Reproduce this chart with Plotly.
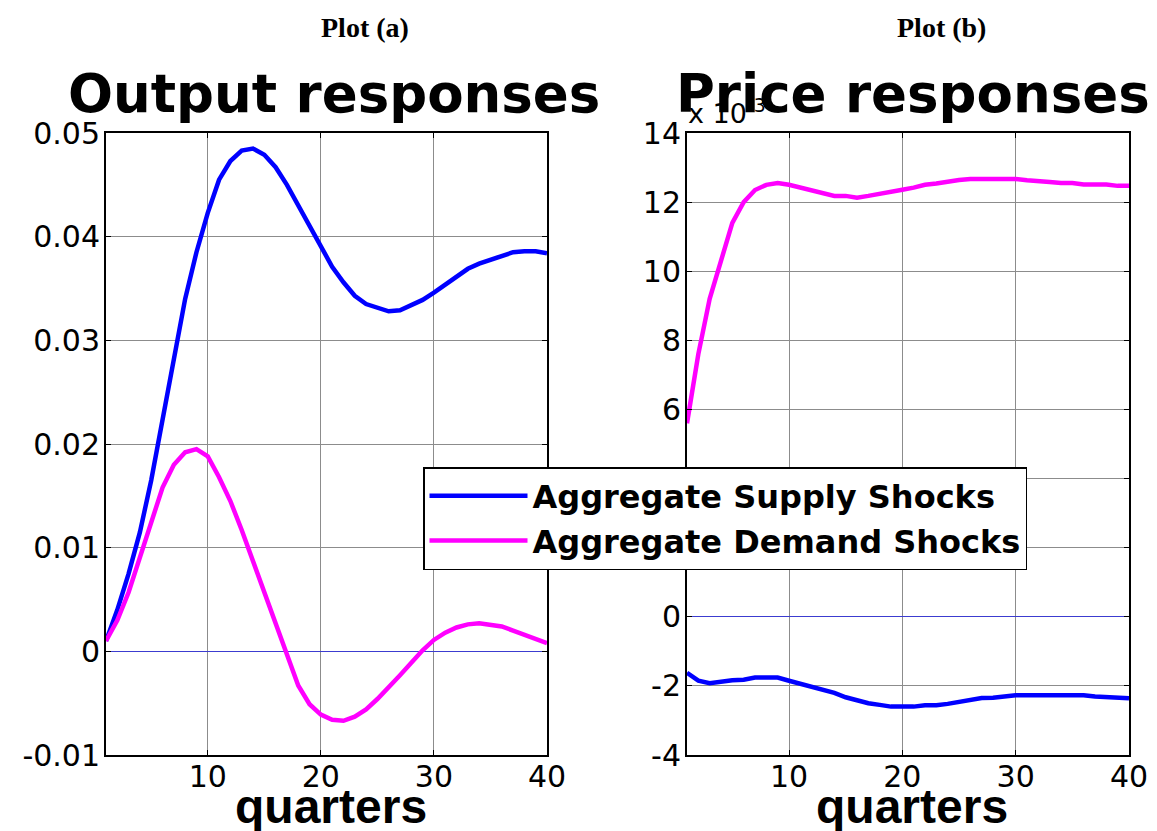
import plotly.graph_objects as go

quarters = list(range(1, 41))

output_supply = [0.0010, 0.0040, 0.0075, 0.0115, 0.0165, 0.0225, 0.0285, 0.0340, 0.0385, 0.0423,
                 0.0455, 0.0473, 0.0483, 0.0485, 0.0479, 0.0467, 0.0450, 0.0430, 0.0410, 0.0389,
                 0.0371, 0.0356, 0.0343, 0.0335, 0.0331, 0.0328, 0.0329, 0.0334, 0.0339, 0.0346,
                 0.0354, 0.0362, 0.0369, 0.0374, 0.0378, 0.0382, 0.0385, 0.0386, 0.0386, 0.0384]

output_demand = [0.0010, 0.0030, 0.0057, 0.0090, 0.0125, 0.0158, 0.0180, 0.0192, 0.0195, 0.0188,
                 0.0168, 0.0145, 0.0117, 0.0087, 0.0057, 0.0028, -0.0003, -0.0033, -0.0051, -0.0061,
                 -0.0066, -0.0067, -0.0063, -0.0056, -0.0046, -0.0035, -0.0023, -0.0011, 0.0001, 0.0011,
                 0.0018, 0.0023, 0.0026, 0.0027, 0.0026, 0.0024, 0.0020, 0.0016, 0.0012, 0.0008]

# price responses, in units of 10^-3
price_supply = [-1.62, -1.85, -1.92, -1.87, -1.84, -1.82, -1.76, -1.76, -1.76, -1.85,
                -1.93, -2.03, -2.12, -2.20, -2.33, -2.42, -2.50, -2.55, -2.60, -2.60,
                -2.60, -2.56, -2.56, -2.52, -2.47, -2.40, -2.35, -2.34, -2.30, -2.27,
                -2.27, -2.27, -2.27, -2.27, -2.27, -2.27, -2.31, -2.32, -2.36, -2.36]

price_demand = [5.60, 7.60, 9.20, 10.30, 11.40, 12.00, 12.35, 12.50, 12.55, 12.50,
                12.42, 12.33, 12.25, 12.18, 12.18, 12.13, 12.18, 12.23, 12.28, 12.36,
                12.42, 12.50, 12.54, 12.60, 12.64, 12.67, 12.67, 12.67, 12.67, 12.67,
                12.63, 12.62, 12.58, 12.55, 12.55, 12.51, 12.51, 12.51, 12.47, 12.47]

x_ticks = [10, 20, 30, 40]
output_ticks = [-0.01, 0, 0.01, 0.02, 0.03, 0.04, 0.05]
output_ticktext = ["-0.01", "0", "0.01", "0.02", "0.03", "0.04", "0.05"]
price_ticks = [-4, -2, 0, 2, 4, 6, 8, 10, 12, 14]
price_ticktext = ["-4", "-2", "0", "2", "4", "6", "8", "10", "12", "14"]

series_names = ["Aggregate Supply Shocks", "Aggregate Demand Shocks"]
BLUE = "#0000ff"
MAGENTA = "#ff00ff"

W, H = 1157, 831
def px(x):
    return x / W
def py(y):
    return (H - y) / H

fig = go.Figure()
fig.add_trace(go.Scatter(x=quarters, y=output_supply, mode="lines", name=series_names[0],
                         line=dict(color=BLUE, width=4.5), xaxis="x", yaxis="y"))
fig.add_trace(go.Scatter(x=quarters, y=output_demand, mode="lines", name=series_names[1],
                         line=dict(color=MAGENTA, width=4.5), xaxis="x", yaxis="y"))
fig.add_trace(go.Scatter(x=quarters, y=price_demand, mode="lines", name=series_names[1],
                         line=dict(color=MAGENTA, width=4.5), xaxis="x2", yaxis="y2", showlegend=False))
fig.add_trace(go.Scatter(x=quarters, y=price_supply, mode="lines", name=series_names[0],
                         line=dict(color=BLUE, width=4.5), xaxis="x2", yaxis="y2", showlegend=False))

tickfont = dict(family="DejaVu Sans", size=30, color="black")
common_x = dict(range=[1, 40], tickvals=x_ticks, ticks="inside", ticklen=5, tickcolor="black",
                showline=True, linecolor="black", linewidth=2, mirror="ticks",
                showgrid=True, gridcolor="#8c8c8c", gridwidth=1, zeroline=False,
                tickfont=tickfont, ticklabelstandoff=-6, automargin=False)
common_y = dict(ticks="inside", ticklen=5, tickcolor="black",
                showline=True, linecolor="black", linewidth=2, mirror="ticks",
                showgrid=True, gridcolor="#8c8c8c", gridwidth=1,
                zeroline=True, zerolinecolor="#3c3cd0", zerolinewidth=1.3,
                tickfont=tickfont, ticklabelstandoff=-2, automargin=False)

dom_y = [py(755), py(133)]
fig.update_layout(
    width=W, height=H,
    margin=dict(l=0, r=0, t=0, b=0, autoexpand=False),
    paper_bgcolor="white", plot_bgcolor="white",
    xaxis=dict(domain=[px(106), px(547)], anchor="y", **common_x),
    yaxis=dict(domain=dom_y, anchor="x", range=[-0.01, 0.05], tickvals=output_ticks,
               ticktext=output_ticktext, **common_y),
    xaxis2=dict(domain=[px(687), px(1129)], anchor="y2", **common_x),
    yaxis2=dict(domain=dom_y, anchor="x2", range=[-4, 14], tickvals=price_ticks,
                ticktext=price_ticktext, **common_y),
    showlegend=True,
    legend=dict(x=px(423), y=py(467), xanchor="left", yanchor="top",
                bgcolor="white", bordercolor="black", borderwidth=1.5,
                font=dict(family="DejaVu Sans", size=32, color="black", weight="bold"),
                itemwidth=98, tracegroupgap=0),
)

annotations = [
    dict(text="x 10<sup>-3</sup>", x=px(686), y=py(131), xanchor="left", yanchor="bottom",
         font=dict(family="DejaVu Sans", size=27, color="black")),
    dict(text="Plot (a)", x=px(365), y=py(28), xanchor="center", yanchor="middle",
         font=dict(family="Liberation Serif", size=28, color="black", weight="bold")),
    dict(text="Plot (b)", x=px(941), y=py(28), xanchor="center", yanchor="middle",
         font=dict(family="Liberation Serif", size=28, color="black", weight="bold")),
    dict(text="Output responses", x=px(334), y=py(93), xanchor="center", yanchor="middle",
         font=dict(family="DejaVu Sans", size=53, color="black", weight="bold")),
    dict(text="Price responses", x=px(913), y=py(93), xanchor="center", yanchor="middle",
         font=dict(family="DejaVu Sans", size=53, color="black", weight="bold")),
    dict(text="quarters", x=px(331), y=py(806), xanchor="center", yanchor="middle",
         font=dict(family="Liberation Sans", size=48, color="black", weight="bold")),
    dict(text="quarters", x=px(912), y=py(806), xanchor="center", yanchor="middle",
         font=dict(family="Liberation Sans", size=48, color="black", weight="bold")),
]
for a in annotations:
    a.update(xref="paper", yref="paper", showarrow=False)
fig.update_layout(annotations=annotations)

fig.write_html("out.html", config={"displayModeBar": False},
               post_script="document.body.style.margin='0';")
